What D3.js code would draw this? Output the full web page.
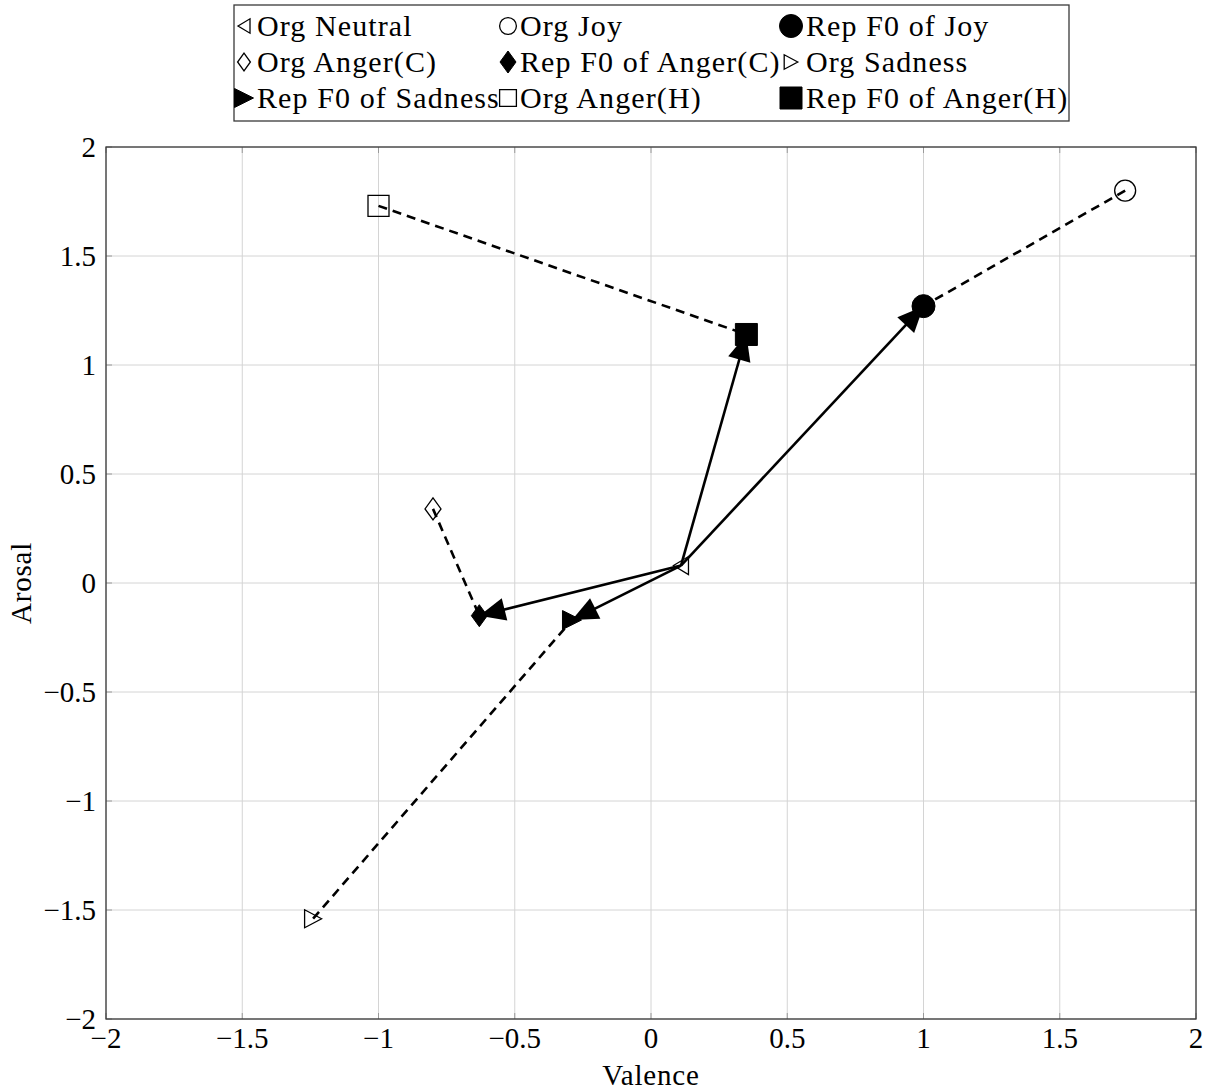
<!DOCTYPE html>
<html>
<head>
  <meta charset="utf-8">
  <script src="https://d3js.org/d3.v7.min.js"></script>
  <style>
    body { margin: 0; background: #fff; }
    svg text { font-family: "Liberation Serif", "DejaVu Serif", serif; fill: #000; }
  </style>
</head>
<body>
<script>
  "use strict";

  // data (valence, arousal)
  var emotions   = ["Joy", "Anger(C)", "Sadness", "Anger(H)"];
  var orgValence = [1.74, -0.80, -1.24, -1.00];
  var orgArousal = [1.80,  0.34, -1.54,  1.73];
  var repValence = [1.00, -0.63, -0.29,  0.35];
  var repArousal = [1.27, -0.15, -0.17,  1.14];
  var neutralPoint = [0.11, 0.08];

  var xTicks = [-2, -1.5, -1, -0.5, 0, 0.5, 1, 1.5, 2];
  var yTicks = [-2, -1.5, -1, -0.5, 0, 0.5, 1, 1.5, 2];

  var legendLabels = [
    "Org Neutral", "Org Joy", "Rep F0 of Joy",
    "Org Anger(C)", "Rep F0 of Anger(C)", "Org Sadness",
    "Rep F0 of Sadness", "Org Anger(H)", "Rep F0 of Anger(H)"
  ];
  var legendShapes = [
    "triLeft", "circle", "circleF",
    "diamond", "diamondF", "triRight",
    "triRightF", "square", "squareF"
  ];

  // shape for org / rep marker of each emotion
  var orgShape = ["circle", "diamond", "triRight", "square"];
  var repShape = ["circleF", "diamondF", "triRightF", "squareF"];

  var W = 1213, H = 1091;
  var pLeft = 106, pRight = 1196, pTop = 147, pBottom = 1019;

  var x = d3.scaleLinear().domain([-2, 2]).range([pLeft, pRight]);
  var y = d3.scaleLinear().domain([-2, 2]).range([pBottom, pTop]);

  var svg = d3.select("body").append("svg")
      .attr("width", W)
      .attr("height", H);

  svg.append("defs").append("marker")
      .attr("id", "head")
      .attr("markerUnits", "userSpaceOnUse")
      .attr("viewBox", "-30 -15 32 30")
      .attr("refX", 0).attr("refY", 0)
      .attr("markerWidth", 32).attr("markerHeight", 30)
      .attr("orient", "auto")
    .append("path")
      .attr("d", "M0,0L-26,-11.5L-26,11.5Z")
      .attr("fill", "#000");

  // marker path around (0,0), s = scale factor
  function shapePath(kind, s) {
    var p = d3.path();
    if (kind.indexOf("circle") === 0) {
      var r = (kind === "circleF" ? 11.5 : 10.5) * s;
      p.arc(0, 0, r, 0, 2 * Math.PI);
    } else if (kind.indexOf("square") === 0) {
      var h = (kind === "squareF" ? 11 : 10.5) * s;
      p.rect(-h, -h, 2 * h, 2 * h);
    } else if (kind.indexOf("diamond") === 0) {
      var dw = 8 * s, dh = 11 * s;
      p.moveTo(0, -dh); p.lineTo(dw, 0); p.lineTo(0, dh); p.lineTo(-dw, 0); p.closePath();
    } else if (kind === "triLeft") {
      var lw = 7.5 * s, lh = 9 * s;
      p.moveTo(-lw, 0); p.lineTo(lw, -lh); p.lineTo(lw, lh); p.closePath();
    } else {
      var rw = (kind === "triRightF" ? 9.5 : 8.5) * s, rh = (kind === "triRightF" ? 9.5 : 9) * s;
      p.moveTo(rw, 0); p.lineTo(-rw, -rh); p.lineTo(-rw, rh); p.closePath();
    }
    return p.toString();
  }
  function isFilled(kind) { return kind.slice(-1) === "F"; }

  function drawShape(g, kind, cx, cy, s) {
    g.append("path")
      .attr("transform", "translate(" + cx + "," + cy + ")")
      .attr("d", shapePath(kind, s))
      .attr("fill", isFilled(kind) ? "#000" : "none")
      .attr("stroke", "#000")
      .attr("stroke-width", isFilled(kind) ? 1 : 1.3);
  }

  /* grid */
  var grid = svg.append("g");
  grid.selectAll(".gx").data(xTicks).enter().append("line")
      .attr("x1", function (d) { return x(d); }).attr("x2", function (d) { return x(d); })
      .attr("y1", pTop).attr("y2", pBottom)
      .attr("stroke", "#d4d4d4").attr("stroke-width", 1);
  grid.selectAll(".gy").data(yTicks).enter().append("line")
      .attr("y1", function (d) { return y(d); }).attr("y2", function (d) { return y(d); })
      .attr("x1", pLeft).attr("x2", pRight)
      .attr("stroke", "#d4d4d4").attr("stroke-width", 1);

  // small inside ticks
  var tk = svg.append("g").attr("stroke", "#9a9a9a").attr("stroke-width", 1);
  xTicks.forEach(function (d) {
    tk.append("line").attr("x1", x(d)).attr("x2", x(d)).attr("y1", pBottom).attr("y2", pBottom - 6);
    tk.append("line").attr("x1", x(d)).attr("x2", x(d)).attr("y1", pTop).attr("y2", pTop + 6);
  });
  yTicks.forEach(function (d) {
    tk.append("line").attr("y1", y(d)).attr("y2", y(d)).attr("x1", pLeft).attr("x2", pLeft + 6);
    tk.append("line").attr("y1", y(d)).attr("y2", y(d)).attr("x1", pRight).attr("x2", pRight - 6);
  });

  svg.append("rect")
      .attr("x", pLeft).attr("y", pTop)
      .attr("width", pRight - pLeft).attr("height", pBottom - pTop)
      .attr("fill", "none").attr("stroke", "#3a3a3a").attr("stroke-width", 1.3);

  function fmt(d) { return String(d).replace("-", "\u2212"); }

  svg.append("g").selectAll("text").data(xTicks).enter().append("text")
      .attr("x", function (d) { return x(d); })
      .attr("y", pBottom + 29)
      .attr("text-anchor", "middle")
      .attr("font-size", 29)
      .text(fmt);

  svg.append("g").selectAll("text").data(yTicks).enter().append("text")
      .attr("x", pLeft - 10)
      .attr("y", function (d) { return y(d) + 10; })
      .attr("text-anchor", "end")
      .attr("font-size", 29)
      .text(fmt);

  svg.append("text")
      .attr("x", (pLeft + pRight) / 2).attr("y", 1085)
      .attr("text-anchor", "middle")
      .attr("font-size", 29)
      .attr("letter-spacing", 0.8)
      .text("Valence");

  svg.append("text")
      .attr("transform", "translate(31," + (pTop + pBottom) / 2 + ") rotate(-90)")
      .attr("text-anchor", "middle")
      .attr("font-size", 29)
      .attr("letter-spacing", 0.8)
      .text("Arosal");

  /* connections */
  var lines = svg.append("g");
  emotions.forEach(function (e, i) {
    // org -> rep, dashed
    lines.append("line")
        .attr("x1", x(orgValence[i])).attr("y1", y(orgArousal[i]))
        .attr("x2", x(repValence[i])).attr("y2", y(repArousal[i]))
        .attr("stroke", "#000").attr("stroke-width", 2.6)
        .attr("stroke-dasharray", "9,6");
  });
  emotions.forEach(function (e, i) {
    // neutral -> rep, arrow
    lines.append("line")
        .attr("x1", x(neutralPoint[0])).attr("y1", y(neutralPoint[1]))
        .attr("x2", x(repValence[i])).attr("y2", y(repArousal[i]))
        .attr("stroke", "#000").attr("stroke-width", 2.6)
        .attr("marker-end", "url(#head)");
  });

  /* markers */
  var marks = svg.append("g");
  drawShape(marks, "triLeft", x(neutralPoint[0]), y(neutralPoint[1]), 1);
  emotions.forEach(function (e, i) {
    drawShape(marks, orgShape[i], x(orgValence[i]), y(orgArousal[i]), 1);
    drawShape(marks, repShape[i], x(repValence[i]), y(repArousal[i]), 1);
  });

  /* legend */
  var lg = svg.append("g");
  lg.append("rect")
      .attr("x", 234).attr("y", 5).attr("width", 835).attr("height", 116)
      .attr("fill", "#fff").attr("stroke", "#3a3a3a").attr("stroke-width", 1.3);

  var colMark = [244, 508, 791];
  var colText = [257, 520, 806];
  var rowY = [26, 62, 98];
  legendLabels.forEach(function (lab, k) {
    var c = k % 3, r = Math.floor(k / 3);
    var kind = legendShapes[k];
    var s = isFilled(kind) ? 1.0 : 0.8;
    drawShape(lg, kind, colMark[c], rowY[r], s);
    lg.append("text")
        .attr("x", colText[c]).attr("y", rowY[r] + 10)
        .attr("font-size", 30)
        .attr("letter-spacing", 1.1)
        .text(lab);
  });
</script>
</body>
</html>
